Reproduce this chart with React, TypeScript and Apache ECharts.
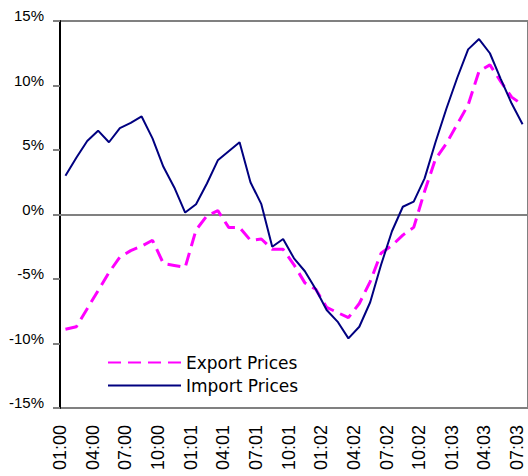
import React, { useEffect, useRef } from "react";
import * as echarts from "echarts";

const months = [
  "01:00", "02:00", "03:00", "04:00", "05:00", "06:00", "07:00", "08:00", "09:00", "10:00", "11:00", "12:00",
  "01:01", "02:01", "03:01", "04:01", "05:01", "06:01", "07:01", "08:01", "09:01", "10:01", "11:01", "12:01",
  "01:02", "02:02", "03:02", "04:02", "05:02", "06:02", "07:02", "08:02", "09:02", "10:02", "11:02", "12:02",
  "01:03", "02:03", "03:03", "04:03", "05:03", "06:03", "07:03",
];

const tickLabels = [
  "01:00", "04:00", "07:00", "10:00", "01:01", "04:01", "07:01", "10:01",
  "01:02", "04:02", "07:02", "10:02", "01:03", "04:03", "07:03",
];

const exportPrices = [
  -8.9, -8.7, -7.3, -5.9, -4.5, -3.3, -2.8, -2.45, -2.0, -3.8, -3.95, -4.1,
  -1.2, -0.1, 0.3, -1.0, -1.0, -2.0, -1.9, -2.7, -2.7, -3.9, -5.3, -5.8,
  -7.2, -7.6, -8.0, -6.9, -5.2, -3.0, -2.4, -1.6, -1.0, 1.8, 4.3, 5.5,
  7.0, 8.5, 11.1, 11.6, 10.3, 9.1, 8.5,
];

const importPrices = [
  3.0, 4.4, 5.7, 6.5, 5.6, 6.7, 7.1, 7.6, 5.9, 3.7, 2.1, 0.15,
  0.8, 2.4, 4.2, 4.9, 5.6, 2.5, 0.8, -2.5, -1.9, -3.4, -4.4, -5.8,
  -7.4, -8.3, -9.6, -8.7, -6.8, -3.9, -1.3, 0.6, 1.0, 2.8, 5.6, 8.2,
  10.6, 12.8, 13.6, 12.5, 10.5, 8.6, 7.0,
];

export default function App() {
  const ref = useRef<HTMLDivElement>(null);
  useEffect(() => {
    if (!ref.current) return;
    const chart = echarts.init(ref.current, undefined, { renderer: "svg" });
    chart.setOption({
      animation: false,
      grid: {
        left: 60,
        top: 21,
        width: 472,
        height: 387,
        show: true,
        borderColor: "#808080",
        borderWidth: 2,
        backgroundColor: "transparent",
      },
      legend: {
        orient: "vertical",
        left: 102,
        top: 349,
        itemWidth: 73,
        itemHeight: 14,
        itemGap: 6,
        itemStyle: { opacity: 0 },
        textStyle: { fontFamily: "DejaVu Sans", fontSize: 17, color: "#000" },
        data: ["Export Prices", "Import Prices"],
      },
      xAxis: [
        {
          type: "category",
          data: months,
          boundaryGap: true,
          position: "bottom",
          axisLine: { onZero: true, lineStyle: { color: "#808080", width: 2 } },
          axisTick: { interval: 2, length: 5, lineStyle: { color: "#606060", width: 1.5 } },
          axisLabel: { show: false },
          splitLine: { show: false },
        },
        {
          type: "value",
          min: 0,
          max: 43,
          interval: 3,
          position: "bottom",
          axisLine: { show: false, onZero: false },
          axisTick: { show: false },
          splitLine: { show: false },
          axisLabel: {
            rotate: 90,
            margin: 17,
            fontSize: 18,
            fontFamily: "Liberation Sans",
            color: "#000",
            formatter: (v: number) => tickLabels[v / 3] ?? "",
          },
        },
      ],
      yAxis: {
        type: "value",
        min: -15,
        max: 15,
        interval: 5,
        axisLine: { show: true, onZero: false, lineStyle: { color: "#000", width: 2 } },
        axisTick: { show: true, length: 7, lineStyle: { color: "#808080", width: 2 } },
        splitLine: { show: false },
        axisLabel: {
          formatter: "{value}%",
          fontSize: 15,
          fontFamily: "Liberation Sans",
          color: "#000",
          margin: 16,
          verticalAlign: "bottom",
          lineHeight: 11,
        },
      },
      series: [
        {
          name: "Export Prices",
          type: "line",
          data: exportPrices,
          symbol: "none",
          lineStyle: { color: "#ff00ff", width: 3, type: [13, 7] },
          itemStyle: { color: "#ff00ff" },
          z: 2,
        },
        {
          name: "Import Prices",
          type: "line",
          data: importPrices,
          symbol: "none",
          lineStyle: { color: "#000080", width: 2 },
          itemStyle: { color: "#000080" },
          z: 3,
        },
      ],
    });
    return () => chart.dispose();
  }, []);
  return (
    <div
      ref={ref}
      style={{ position: "absolute", left: 0, top: 0, width: 528, height: 476 }}
    />
  );
}
